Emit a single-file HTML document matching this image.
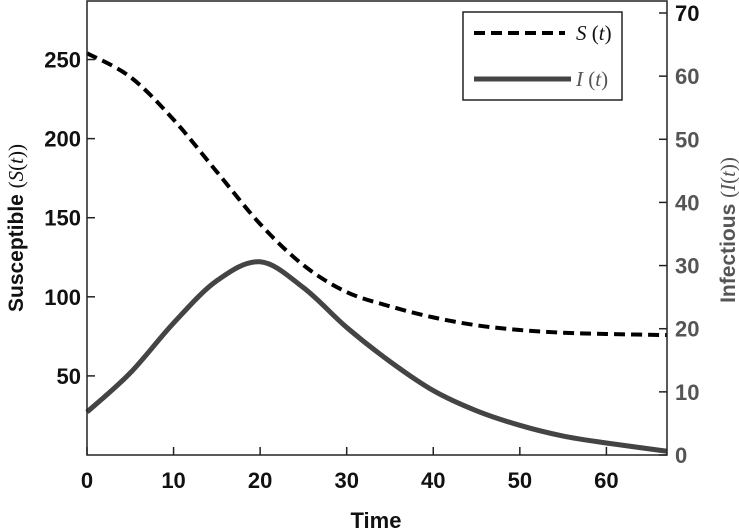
<!DOCTYPE html>
<html><head><meta charset="utf-8"><style>
body{margin:0;background:#fff;}
#chart text{font-family:"Liberation Sans",Arial,sans-serif;font-weight:bold;}
</style></head><body>
<svg id="chart" width="739" height="530" viewBox="0 0 739 530" xmlns="http://www.w3.org/2000/svg" style="position:absolute;left:0;top:0">
<g id="g"></g>
</svg>
<script>
const times = [0,5,10,15,20,25,30,35,40,45,50,55,60,67];
const susceptible = [254,239,212,179,146,120,103,94,87,82,79,77.3,76.5,75.8];
const infectious = [6.8,13,20.9,27.6,30.6,26.5,20.2,14.8,10.2,7.0,4.7,3.0,1.9,0.6];
const xTicks = [0,10,20,30,40,50,60];
const leftTicks = [50,100,150,200,250];
const rightTicks = [0,10,20,30,40,50,60,70];

const L=87, R=667, T=1, B=455;
const xMax=67, lMax=287, rMax=71.9;
const sx=t=>L+(t/xMax)*(R-L);
const sl=v=>B-(v/lMax)*(B-T);
const sr=v=>B-(v/rMax)*(B-T);
const g=document.getElementById('g');
const NS='http://www.w3.org/2000/svg';
function mk(tag,attrs,parent){const e=document.createElementNS(NS,tag);for(const k in attrs)e.setAttribute(k,attrs[k]);(parent||g).appendChild(e);return e;}

function smooth(pts){let d='M'+pts[0][0]+','+pts[0][1];for(let i=0;i<pts.length-1;i++){const p0=pts[i-1]||pts[i],p1=pts[i],p2=pts[i+1],p3=pts[i+2]||p2;const c1=[p1[0]+(p2[0]-p0[0])/6,p1[1]+(p2[1]-p0[1])/6],c2=[p2[0]-(p3[0]-p1[0])/6,p2[1]-(p3[1]-p1[1])/6];d+=' C'+c1+' '+c2+' '+p2;}return d;}

const iPath=mk('path',{d:smooth(times.map((t,i)=>[sx(t),sr(infectious[i])])),fill:'none',stroke:'#444','stroke-width':5});


const sPath=mk('path',{d:smooth(times.map((t,i)=>[sx(t),sl(susceptible[i])])),fill:'none',stroke:'#000','stroke-width':4,'stroke-dasharray':'11,6'});



const frame=mk('rect',{x:L,y:T,width:R-L,height:B-T,fill:'none',stroke:'#222','stroke-width':1.5});



xTicks.forEach(v=>{const x=sx(v);
 const tk=mk('line',{x1:x,x2:x,y1:B,y2:B-8,stroke:'#222','stroke-width':1.5});
 
 
 const t=mk('text',{x:x,y:B+33,'text-anchor':'middle','font-size':22,fill:'#111'});t.textContent=v;
 
 });
leftTicks.forEach(v=>{const y=sl(v);
 const tk=mk('line',{x1:L,x2:L+8,y1:y,y2:y,stroke:'#222','stroke-width':1.5});
 
 
 const t=mk('text',{x:L-6,y:y+8,'text-anchor':'end','font-size':22,fill:'#111'});t.textContent=v;
 
 });
rightTicks.forEach(v=>{const y=sr(v);
 const tk=mk('line',{x1:R,x2:R-8,y1:y,y2:y,stroke:'#222','stroke-width':1.5});
 
 
 const t=mk('text',{x:R+8,y:y+8,'text-anchor':'start','font-size':22,fill:v===70?'#111':'#555'});t.textContent=v;
 
 });
</script>
<svg style="position:absolute;left:0;top:0" width="739" height="530">
<text x="376" y="528" text-anchor="middle" font-size="22" fill="#111" font-family="Liberation Sans" font-weight="bold">Time</text>
<text transform="translate(23,228) rotate(-90)" text-anchor="middle" font-size="21" fill="#111" font-family="Liberation Sans" font-weight="bold">Susceptible <tspan font-family="Liberation Serif" font-weight="normal">(<tspan font-style="italic">S</tspan>(<tspan font-style="italic">t</tspan>))</tspan></text>
<text transform="translate(735,230) rotate(-90)" text-anchor="middle" font-size="21" fill="#555" font-family="Liberation Sans" font-weight="bold">Infectious <tspan font-family="Liberation Serif" font-weight="normal">(<tspan font-style="italic">I</tspan>(<tspan font-style="italic">t</tspan>))</tspan></text>
<g>
<rect x="463" y="12" width="159" height="88" fill="#fff" stroke="#222" stroke-width="1.5"/>
<line x1="474" y1="33" x2="565" y2="33" stroke="#000" stroke-width="4" stroke-dasharray="11,6"/>
<text x="576" y="40" font-size="21" font-family="Liberation Serif" fill="#111"><tspan font-style="italic">S</tspan> (<tspan font-style="italic">t</tspan>)</text>
<line x1="474" y1="79" x2="571" y2="79" stroke="#444" stroke-width="5"/>
<text x="576" y="86" font-size="21" font-family="Liberation Serif" fill="#555"><tspan font-style="italic">I</tspan> (<tspan font-style="italic">t</tspan>)</text>
</g>
</svg>
</body></html>
